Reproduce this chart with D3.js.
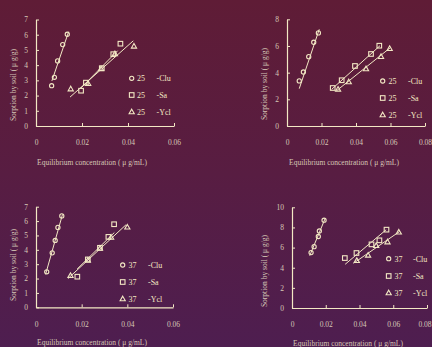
<!DOCTYPE html>
<html>
<head>
<meta charset="utf-8">
<script src="https://cdn.jsdelivr.net/npm/d3@7"></script>
<style>
  html, body { margin: 0; padding: 0; background: #561d44; }
  svg { display: block; font-family: "Liberation Serif", "DejaVu Serif", serif; }
</style>
</head>
<body>
<div id="chart"></div>
<script>
// sorption isotherms, 4 panels: 25 degrees on top, 37 degrees below

const seriesNames = ['-Clu', '-Sa', '-Ycl'];
const xTicksShort = [0, 0.02, 0.04, 0.06];
const xTicksLong = [0, 0.02, 0.04, 0.06, 0.08];
const yTicks7 = [0, 1, 2, 3, 4, 5, 6, 7];
const yTicks8 = [0, 2, 4, 6, 8];
const yTicks10 = [0, 2, 4, 6, 8, 10];

// top left, 25
const tlCluX = [0.0068, 0.0080, 0.0094, 0.0116, 0.0136];
const tlCluY = [2.65, 3.2, 4.28, 5.35, 6.03];
const tlSaX = [0.0196, 0.0217, 0.0286, 0.0336, 0.0367];
const tlSaY = [2.32, 2.85, 3.8, 4.72, 5.41];
const tlYclX = [0.0151, 0.0227, 0.0283, 0.0343, 0.0426];
const tlYclY = [2.43, 2.78, 3.75, 4.74, 5.24];
const tlFits = [[0.0069, 2.96, 0.0142, 6.2], [0.0196, 2.5, 0.0355, 4.95], [0.0148, 1.9, 0.0423, 5.6]];

// top right, 25
const trCluX = [0.0071, 0.0095, 0.0126, 0.0155, 0.0182];
const trCluY = [3.38, 4.05, 5.2, 6.28, 6.98];
const trSaX = [0.0265, 0.0317, 0.0394, 0.0487, 0.0535];
const trSaY = [2.85, 3.43, 4.5, 5.4, 6.02];
const trYclX = [0.0296, 0.0358, 0.0458, 0.0545, 0.0595];
const trYclY = [2.75, 3.3, 4.28, 5.2, 5.8];
const trFits = [[0.0071, 2.8, 0.0187, 7.25], [0.0259, 2.75, 0.0539, 6.02], [0.0288, 2.65, 0.0599, 5.87]];

// bottom left, 37
const blCluX = [0.0047, 0.0071, 0.0084, 0.0096, 0.0113];
const blCluY = [2.47, 3.79, 4.65, 5.56, 6.36];
const blSaX = [0.0181, 0.0227, 0.0280, 0.0317, 0.0342];
const blSaY = [2.13, 3.33, 4.14, 4.9, 5.78];
const blYclX = [0.0151, 0.0227, 0.0280, 0.0329, 0.0400];
const blYclY = [2.2, 3.26, 4.1, 4.86, 5.57];
const blFits = [[0.0042, 2.29, 0.0116, 6.46], [0.0180, 2.66, 0.0343, 5.2], [0.0140, 2.0, 0.0394, 5.74]];

// bottom right, 37
const brCluX = [0.0113, 0.0131, 0.0156, 0.0162, 0.0190];
const brCluY = [5.5, 6.09, 7.1, 7.65, 8.72];
const brSaX = [0.0313, 0.0382, 0.0471, 0.0518, 0.0560];
const brSaY = [4.96, 5.46, 6.32, 6.72, 7.78];
const brYclX = [0.0384, 0.0451, 0.0499, 0.0566, 0.0633];
const brYclY = [4.7, 5.23, 6.19, 6.55, 7.52];
const brFits = [[0.0105, 5.19, 0.0196, 8.87], [0.0315, 4.34, 0.0558, 7.77], [0.0364, 4.44, 0.0638, 7.6]];

const W = 432, H = 347;
const fg = '#f3e8c4';
const labelColor = '#d6c7b6';

const svg = d3.select('#chart').append('svg')
  .attr('width', W)
  .attr('height', H);

const grad = svg.append('defs').append('linearGradient')
  .attr('id', 'bg')
  .attr('x1', 0).attr('y1', 0).attr('x2', 0).attr('y2', 1);
grad.append('stop').attr('offset', '0%').attr('stop-color', '#5f1c36');
grad.append('stop').attr('offset', '50%').attr('stop-color', '#581d42');
grad.append('stop').attr('offset', '100%').attr('stop-color', '#4e1e50');
svg.append('rect').attr('width', W).attr('height', H).attr('fill', 'url(#bg)');

const panels = [
  { temp: '25', xr: [36, 174], yr: [126, 19.5], xmax: 0.06, ymax: 7, xt: xTicksShort, yt: yTicks7,
    xs: [tlCluX, tlSaX, tlYclX], ys: [tlCluY, tlSaY, tlYclY], fits: tlFits,
    ytx: 13, yty: 85, xtx: 92, xty: 165, leg: { mx: 131.7, nx: 137, lx: 156.5, rows: [78.3, 95, 112] } },
  { temp: '25', xr: [287, 425], yr: [126, 19.3], xmax: 0.08, ymax: 8, xt: xTicksLong, yt: yTicks8,
    xs: [trCluX, trSaX, trYclX], ys: [trCluY, trSaY, trYclY], fits: trFits,
    ytx: 264, yty: 84, xtx: 344, xty: 165, leg: { mx: 382.7, nx: 388.5, lx: 408, rows: [81, 98, 115] } },
  { temp: '37', xr: [36, 173], yr: [307.3, 206.7], xmax: 0.06, ymax: 7, xt: xTicksShort, yt: yTicks7,
    xs: [blCluX, blSaX, blYclX], ys: [blCluY, blSaY, blYclY], fits: blFits,
    ytx: 13, yty: 265, xtx: 92, xty: 345, leg: { mx: 122.7, nx: 128.5, lx: 148, rows: [265, 282, 299] } },
  { temp: '37', xr: [292, 427], yr: [308, 207.3], xmax: 0.08, ymax: 10, xt: xTicksLong, yt: yTicks10,
    xs: [brCluX, brSaX, brYclX], ys: [brCluY, brSaY, brYclY], fits: brFits,
    ytx: 264, yty: 271, xtx: 348, xty: 346, leg: { mx: 388.7, nx: 394.5, lx: 413, rows: [258.7, 276, 293] } }
];

const xFmt = (d) => d === 0 ? '0' : d3.format('.2f')(d);
const yFmt = d3.format('d');

function drawMarker(g, kind, cx, cy) {
  const common = (s) => s.attr('fill', 'none').attr('stroke', fg).attr('stroke-width', 1.1);
  if (kind === 0) {
    common(g.append('circle').attr('cx', cx).attr('cy', cy).attr('r', 2.1));
  } else if (kind === 1) {
    common(g.append('rect').attr('x', cx - 2.3).attr('y', cy - 2.3).attr('width', 4.6).attr('height', 4.6));
  } else {
    common(g.append('path').attr('d', `M${cx},${cy - 2.8}L${cx + 2.6},${cy + 1.8}L${cx - 2.6},${cy + 1.8}Z`));
  }
}

panels.forEach((p) => {
  const x = d3.scaleLinear().domain([0, p.xmax]).range(p.xr);
  const y = d3.scaleLinear().domain([0, p.ymax]).range(p.yr);
  const g = svg.append('g');

  const xAxis = g.append('g')
    .attr('transform', `translate(0, ${p.yr[0]})`)
    .call(d3.axisBottom(x).tickValues(p.xt).tickFormat(xFmt).tickSize(-3).tickSizeOuter(0).tickPadding(14));

  const yAxis = g.append('g')
    .attr('transform', `translate(${p.xr[0]}, 0)`)
    .call(d3.axisLeft(y).tickValues(p.yt).tickFormat(yFmt).tickSize(-3).tickSizeOuter(0).tickPadding(8));

  [xAxis, yAxis].forEach((a) => {
    a.select('.domain').attr('stroke', fg).attr('stroke-width', 1.2);
    a.selectAll('.tick line').attr('stroke', fg).attr('stroke-width', 1);
    a.selectAll('.tick text')
      .attr('fill', labelColor)
      .attr('font-size', 7.5)
      .attr('font-family', '"Liberation Serif", serif');
  });

  // the last label on the right edge would run off the page
  xAxis.selectAll('.tick text')
    .filter(function () { return x.range()[1] + 7 > W && this.textContent === xFmt(p.xmax); })
    .attr('text-anchor', 'end')
    .attr('x', W - 1 - x.range()[1]);

  // fitted lines
  p.fits.forEach((f) => {
    g.append('line')
      .attr('x1', x(f[0])).attr('y1', y(f[1]))
      .attr('x2', x(f[2])).attr('y2', y(f[3]))
      .attr('stroke', fg)
      .attr('stroke-width', 1);
  });

  // points
  p.xs.forEach((xs, k) => {
    xs.forEach((xv, i) => drawMarker(g, k, x(xv), y(p.ys[k][i])));
  });

  // legend
  seriesNames.forEach((name, k) => {
    const ry = p.leg.rows[k];
    drawMarker(g, k, p.leg.mx, ry);
    g.append('text').attr('x', p.leg.nx).attr('y', ry).attr('dy', '0.35em')
      .attr('fill', fg).attr('font-size', 8).text(p.temp);
    g.append('text').attr('x', p.leg.lx).attr('y', ry).attr('dy', '0.35em')
      .attr('fill', fg).attr('font-size', 8).text(name);
  });

  // axis titles
  g.append('text')
    .attr('x', p.xtx).attr('y', p.xty)
    .attr('text-anchor', 'middle')
    .attr('fill', labelColor)
    .attr('font-size', 7.5)
    .text('Equilibrium concentration ( μ g/mL)');

  g.append('text')
    .attr('transform', `translate(${p.ytx}, ${p.yty}) rotate(-90)`)
    .attr('text-anchor', 'middle')
    .attr('dy', '0.35em')
    .attr('fill', labelColor)
    .attr('font-size', 7.5)
    .text('Sorption by soil ( μ g/g)');
});
</script>
</body>
</html>
